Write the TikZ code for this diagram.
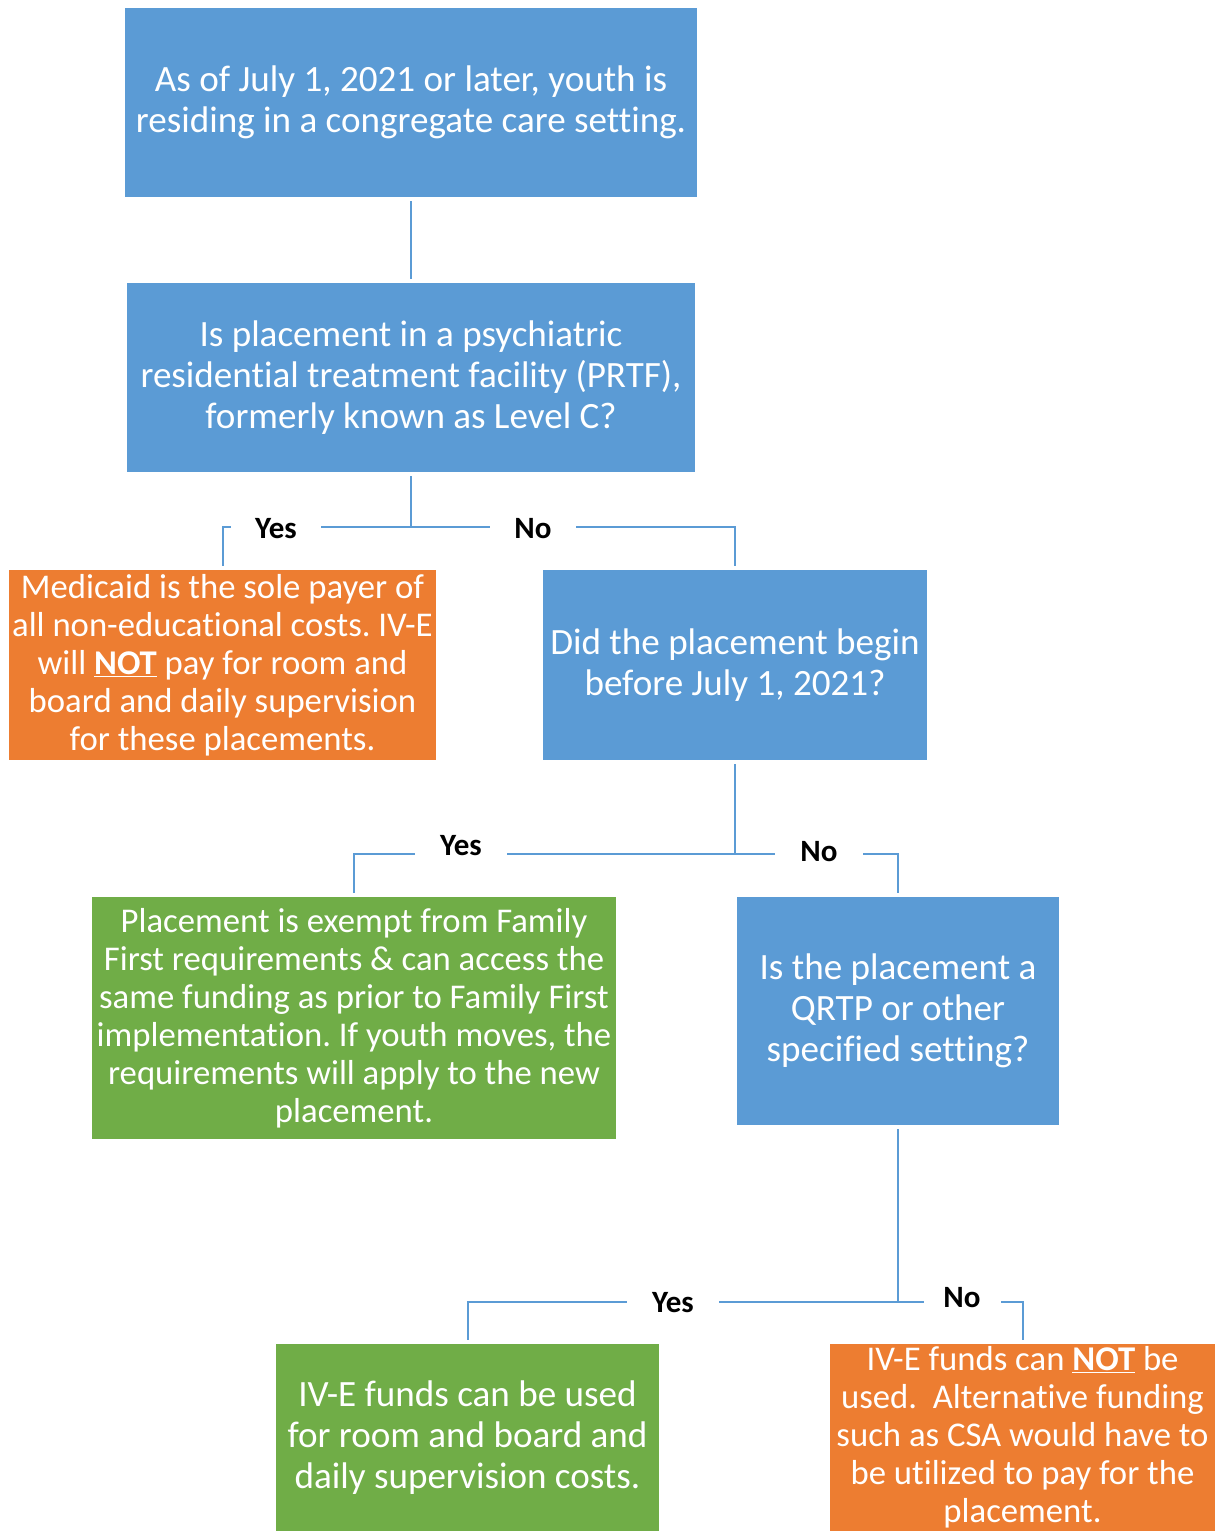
\documentclass[tikz,border=0pt]{standalone}
\usepackage{fontspec}
\setmainfont{Carlito}[Ligatures=NoCommon]
\frenchspacing
\definecolor{cblue}{HTML}{5B9BD5}
\definecolor{corange}{HTML}{ED7D31}
\definecolor{cgreen}{HTML}{70AD47}
\newcommand\bigtxt{\fontsize{37.1}{41}\selectfont}
\newcommand\smtxt{\fontsize{34.7}{38}\selectfont}
\begin{document}
\begin{tikzpicture}[x=1pt,y=-1pt,
  box/.style={rectangle, inner sep=0pt, text=white, align=center},
  bluebox/.style={box, fill=cblue, font=\bigtxt},
  orbox/.style={box, fill=corange, font=\smtxt},
  grbox/.style={box, fill=cgreen, font=\smtxt},
  conn/.style={draw=cblue, line width=2pt, shorten <=4pt, shorten >=4pt},
  lbl/.style={fill=white, inner sep=0pt, minimum height=28pt, font=\fontsize{31}{34}\selectfont\bfseries}
]
\useasboundingbox (0,0) rectangle (1217,1531);
\fill[white] (0,0) rectangle (1217,1531);

\node[bluebox, minimum width=572pt, minimum height=189pt] (b1) at (411,102.5)
  {As of July 1, 2021 or later, youth is\\residing in a congregate care setting.};
\node[bluebox, minimum width=568pt, minimum height=189pt] (b2) at (411,377.5)
  {Is placement in a psychiatric\\residential treatment facility (PRTF),\\formerly known as Level C?};
\node[orbox, minimum width=427pt, minimum height=190pt] (o1) at (222.5,665)
  {Medicaid is the sole payer of\\all non-educational costs. IV-E\\will \underline{\textbf{NOT}} pay for room and\\board and daily supervision\\for these placements.};
\node[bluebox, minimum width=384pt, minimum height=190pt] (b3) at (735,665)
  {Did the placement begin\\before July 1, 2021?};
\node[grbox, minimum width=524pt, minimum height=242pt] (g1) at (354,1018)
  {Placement is exempt from Family\\First requirements \& can access the\\same funding as prior to Family First\\implementation. If youth moves, the\\requirements will apply to the new\\placement.};
\node[bluebox, minimum width=322pt, minimum height=228pt] (b4) at (898,1011)
  {Is the placement a\\QRTP or other\\specified setting?};
\node[grbox, font=\bigtxt, minimum width=383pt, minimum height=187pt] (g2) at (467.5,1437.5)
  {IV-E funds can be used\\for room and board and\\daily supervision costs.};
\node[orbox, minimum width=385pt, minimum height=187pt] (o2) at (1022.5,1437.5)
  {IV-E funds can \underline{\textbf{NOT}} be\\used.~ Alternative funding\\such as CSA would have to\\be utilized to pay for the\\placement.};

\coordinate (j1) at (411,527);
\coordinate (j2) at (735,854);
\coordinate (j3) at (898,1302);

\draw[conn] (b1) -- (b2);
\draw[conn, shorten >=0pt] (b2.south) -- (j1);
\draw[conn, shorten <=0pt] (j1) -| (o1.north);
\draw[conn, shorten <=0pt] (j1) -| (b3.north);
\draw[conn, shorten >=0pt] (b3.south) -- (j2);
\draw[conn, shorten <=0pt] (j2) -| (g1.north);
\draw[conn, shorten <=0pt] (j2) -| (b4.north);
\draw[conn, shorten >=0pt] (b4.south) -- (j3);
\draw[conn, shorten <=0pt] (j3) -| (g2.north);
\draw[conn, shorten <=0pt] (j3) -| (o2.north);

\node[lbl, minimum width=90pt] (l1) at (276,529) {Yes};
\node[lbl, minimum width=86pt] (l2) at (533,529) {No};
\node[lbl, minimum width=92pt] (l3) at (461,846) {Yes};
\node[lbl, minimum width=88pt] (l4) at (819,852) {No};
\node[lbl, minimum width=92pt] (l5) at (673,1303) {Yes};
\node[lbl, minimum width=77pt] (l6) at (962,1298) {No};
\end{tikzpicture}
\end{document}
